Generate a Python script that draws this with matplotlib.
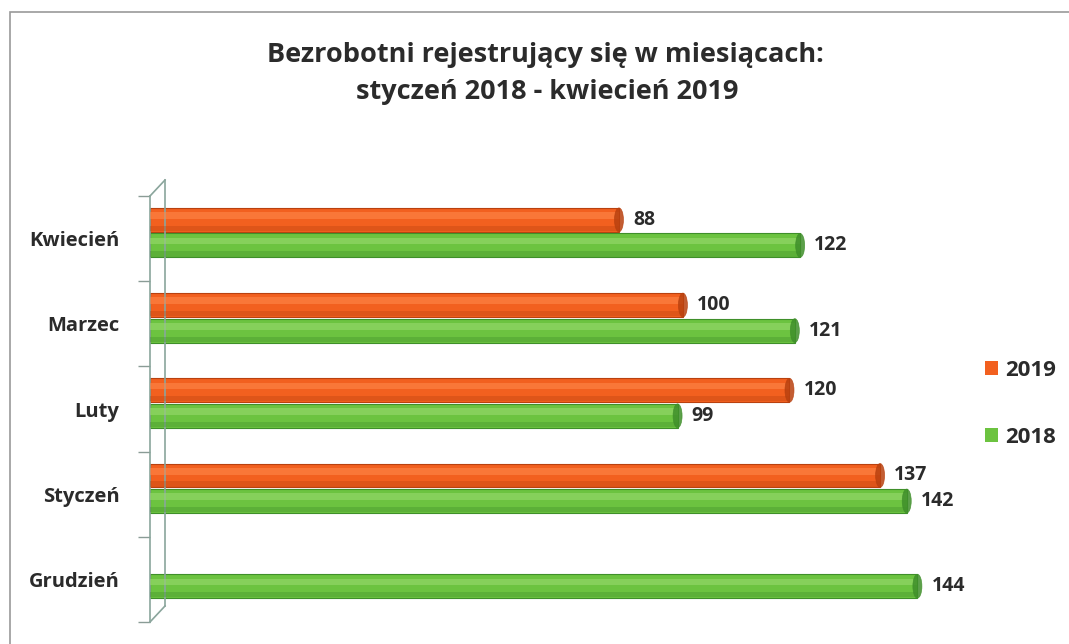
import numpy as np
import matplotlib.pyplot as plt
from matplotlib.patches import Ellipse, Patch, Rectangle
from matplotlib.lines import Line2D

plt.rcParams['font.family'] = ['Open Sans', 'DejaVu Sans']

# data (bottom to top)
months = ['Grudzień', 'Styczeń', 'Luty', 'Marzec', 'Kwiecień']
v2019 = [0, 137, 120, 100, 88]
v2018 = [144, 142, 99, 121, 122]
series = ['2019', '2018']

c19 = '#f2601f'
c19_dark = '#b9410f'
c19_light = '#ff8a4d'
c18 = '#6cc340'
c18_dark = '#3f8f2a'
c18_light = '#9ddc72'
txt = '#2b2b2b'

W, H = 1069, 644
fig = plt.figure(figsize=(W / 100, H / 100), dpi=100)
fig.patch.set_facecolor('white')

# scanned frame of the original chart
fig.add_artist(Rectangle((10 / W, -0.1), 1.2, 1 - 12 / H + 0.1, transform=fig.transFigure,
                         fill=False, edgecolor='#9a9a9a', lw=1.2))

ax = fig.add_axes([150 / W, 1 - 622 / H, 826 / W, (622 - 196) / H])
y = np.arange(len(months))
h = 0.28
off19 = 0.22
off18 = -0.08
px = 155 / 826.0  # data units per pixel along x


def cyl(ypos, vals, base, dark, light):
    for yy, v in zip(ypos, vals):
        if v <= 0:
            continue
        ax.barh(yy, v, height=h, color=base, edgecolor=dark, lw=0.8, zorder=2)
        ax.barh(yy + h * 0.18, v, height=h * 0.28, color=light, lw=0, alpha=0.55, zorder=3)
        ax.barh(yy - h * 0.36, v, height=h * 0.22, color=dark, lw=0, alpha=0.35, zorder=3)
        ax.add_patch(Ellipse((v, yy), width=9 * px, height=h, facecolor=dark, edgecolor=dark,
                             lw=0.5, alpha=0.85, zorder=4))


cyl(y + off19, v2019, c19, c19_dark, c19_light)
cyl(y + off18, v2018, c18, c18_dark, c18_light)

for yy, v in zip(y, v2019):
    if v > 0:
        ax.text(v + 14 * px, yy + off19, str(v), va='center', ha='left', fontsize=14,
                fontweight='bold', color=txt)
for yy, v in zip(y, v2018):
    ax.text(v + 14 * px, yy + off18, str(v), va='center', ha='left', fontsize=14,
            fontweight='bold', color=txt)

ax.set_xlim(0, 155)
ax.set_ylim(-0.5, len(months) - 0.5)
ax.set_xticks([])
ax.set_yticks(y)
ax.set_yticklabels(months, fontsize=14.5, fontweight='bold', color=txt)
ax.set_yticks(np.arange(-0.5, len(months)), minor=True)
ax.tick_params(axis='y', which='major', length=0, pad=22)
ax.tick_params(axis='y', which='minor', length=9, width=1, color='#8a9c96')
for s in ['top', 'right', 'bottom']:
    ax.spines[s].set_visible(False)
ax.spines['left'].set_color('#8aa59c')
ax.spines['left'].set_linewidth(1.2)
ax.patch.set_alpha(0)

# 3d wall back edge
wall = '#8aa59c'
bx = 15 / 826.0
dy = 16 / 426.0
ax.add_line(Line2D([bx, bx], [dy, 1 + dy], transform=ax.transAxes, color=wall, lw=1.2, clip_on=False))
ax.add_line(Line2D([0, bx], [1, 1 + dy], transform=ax.transAxes, color=wall, lw=1.2, clip_on=False))
ax.add_line(Line2D([0, bx], [0, dy], transform=ax.transAxes, color=wall, lw=1.2, clip_on=False))

fig.text(545 / W, 1 - 55 / H, 'Bezrobotni rejestrujący się w miesiącach:', ha='center', va='center',
         fontsize=19.5, fontweight='bold', color=txt)
fig.text(547 / W, 1 - 92 / H, 'styczeń 2018 - kwiecień 2019', ha='center', va='center',
         fontsize=19.5, fontweight='bold', color=txt)

handles = [Patch(facecolor=c19, edgecolor='none'), Patch(facecolor=c18, edgecolor='none')]
leg = fig.legend(handles, series, loc='center left', bbox_to_anchor=(985 / W, 1 - 404 / H),
                 frameon=False, borderpad=0, borderaxespad=0, handlelength=0.6,
                 handleheight=0.6, handletextpad=0.3, labelspacing=2.05,
                 prop={'size': 16, 'weight': 'bold'})
for t in leg.get_texts():
    t.set_color(txt)

fig.savefig('out.png', dpi=100)
